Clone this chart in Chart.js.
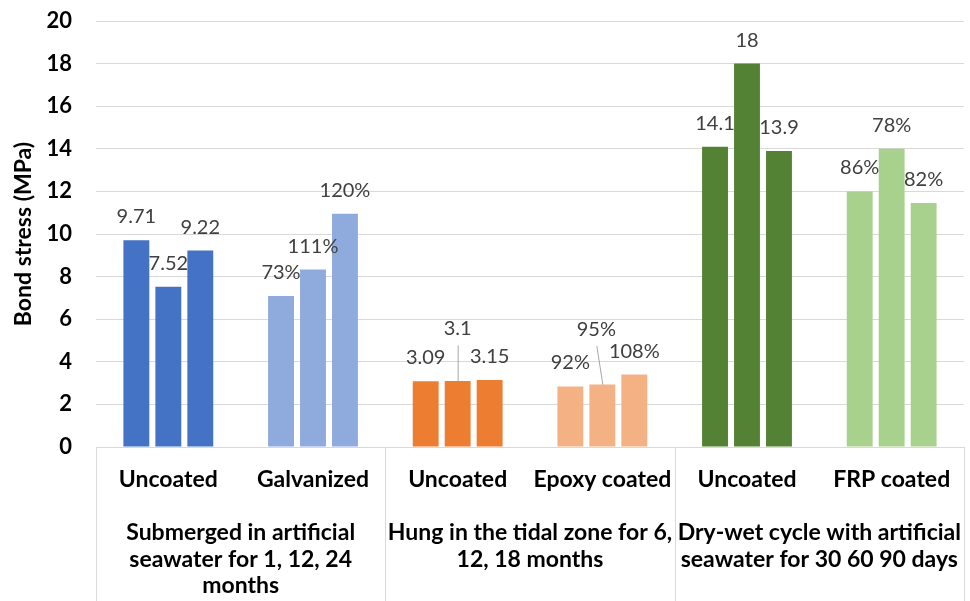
<!DOCTYPE html>
<html>
<head>
<meta charset="utf-8">
<title>Bond stress</title>
<script src="https://cdn.jsdelivr.net/npm/chart.js@4/dist/chart.umd.min.js"></script>
<style>
  html, body { margin: 0; padding: 0; background: #ffffff; }
  canvas { display: block; }
</style>
</head>
<body>
<canvas id="chart" width="970" height="601"></canvas>
<script>
// Bar categories (coating type) and the exposure condition each pair belongs to
const categories = ['Uncoated', 'Galvanized', 'Uncoated', 'Epoxy coated', 'Uncoated', 'FRP coated'];
const groupLines = [
  ['Submerged in artificial', 'seawater for 1, 12, 24', 'months'],
  ['Hung in the tidal zone for 6,', '12, 18 months'],
  ['Dry-wet cycle with artificial', 'seawater for 30 60 90 days']
];

// Bond stress (MPa) for the three exposure durations
const exposure1 = [9.71, 7.09, 3.09, 2.84, 14.1, 12.0];
const exposure2 = [7.52, 8.33, 3.1, 2.93, 18, 14.0];
const exposure3 = [9.22, 10.95, 3.15, 3.4, 13.9, 11.45];

// Text shown above each bar (coated bars show retention relative to uncoated)
const labels1 = ['9.71', '73%', '3.09', '92%', '14.1', '86%'];
const labels2 = ['7.52', '111%', '3.1', '95%', '18', '78%'];
const labels3 = ['9.22', '120%', '3.15', '108%', '13.9', '82%'];

const yTicks = [0, 2, 4, 6, 8, 10, 12, 14, 16, 18, 20];

const barColors = ['#4472C4', '#8FAADC', '#ED7D31', '#F4B183', '#548235', '#A9D18E'];

const FONT = 'Lato, "Open Sans", "DejaVu Sans", sans-serif';
const GRID = '#d9d9d9';

// Labels lifted clear of their neighbours and tied back with a leader line
const leaderLabels = {
  '1-2': { lift: 29, dx: 0 },
  '1-3': { lift: 32, dx: -6 }
};

const valueLabels = {
  id: 'valueLabels',
  afterDatasetsDraw(chart) {
    const ctx = chart.ctx;
    const sets = [labels1, labels2, labels3];
    ctx.save();
    ctx.font = '20px ' + FONT;
    ctx.fillStyle = '#404040';
    ctx.textAlign = 'center';
    ctx.textBaseline = 'middle';
    chart.data.datasets.forEach((ds, d) => {
      const meta = chart.getDatasetMeta(d);
      meta.data.forEach((bar, i) => {
        const text = sets[d][i];
        const lead = leaderLabels[d + '-' + i];
        const cx = bar.x + (lead ? lead.dx : 0);
        const cy = bar.y - 23.5 - (lead ? lead.lift : 0);
        ctx.fillText(text, cx, cy);
        if (lead) {
          ctx.save();
          ctx.strokeStyle = '#a6a6a6';
          ctx.lineWidth = 1;
          ctx.beginPath();
          ctx.moveTo(cx + 0.5, cy + 17);
          ctx.lineTo(bar.x + 0.5, bar.y);
          ctx.stroke();
          ctx.restore();
        }
      });
    });
    ctx.restore();
  }
};

// Two-level category axis: coating names, then exposure condition, with dividers
const groupedAxis = {
  id: 'groupedAxis',
  afterDraw(chart) {
    const ctx = chart.ctx;
    const x = chart.scales.x;
    const area = chart.chartArea;
    const bottom = chart.height;
    const centers = categories.map((_, i) => x.getPixelForValue(i));
    const bounds = [area.left];
    for (let g = 1; g < groupLines.length; g++) {
      bounds.push((centers[2 * g - 1] + centers[2 * g]) / 2);
    }
    bounds.push(area.right);

    ctx.save();
    ctx.strokeStyle = GRID;
    ctx.lineWidth = 1;
    bounds.forEach(b => {
      const px = Math.round(b) + 0.5;
      ctx.beginPath();
      ctx.moveTo(px, area.bottom);
      ctx.lineTo(px, bottom);
      ctx.stroke();
    });

    ctx.fillStyle = '#000000';
    ctx.textAlign = 'center';
    ctx.textBaseline = 'middle';
    ctx.font = 'bold 23px ' + FONT;
    categories.forEach((c, i) => {
      ctx.fillText(c, centers[i], area.bottom + 33, 142);
    });
    groupLines.forEach((lines, g) => {
      const cx = (bounds[g] + bounds[g + 1]) / 2;
      const w = bounds[g + 1] - bounds[g] - 2;
      lines.forEach((ln, k) => {
        ctx.fillText(ln, cx, area.bottom + 86 + k * 26.5, w);
      });
    });
    ctx.restore();
  }
};

const makeSet = (label, data) => ({
  label,
  data,
  backgroundColor: barColors,
  borderWidth: 0,
  categoryPercentage: 0.663,
  barPercentage: 0.81
});

new Chart(document.getElementById('chart'), {
  type: 'bar',
  data: {
    labels: categories,
    datasets: [
      makeSet('Exposure 1', exposure1),
      makeSet('Exposure 2', exposure2),
      makeSet('Exposure 3', exposure3)
    ]
  },
  options: {
    responsive: false,
    animation: false,
    layout: { padding: { top: 21, right: 6, left: 0, bottom: 0 } },
    plugins: {
      legend: { display: false },
      tooltip: { enabled: false }
    },
    scales: {
      x: {
        grid: { display: false },
        border: { display: false },
        ticks: { display: false },
        afterFit(s) { s.height = 154; }
      },
      y: {
        min: 0,
        max: 20,
        afterBuildTicks(s) { s.ticks = yTicks.map(v => ({ value: v })); },
        grid: { color: GRID, lineWidth: 1, drawTicks: false },
        border: { display: false },
        ticks: {
          padding: 24,
          color: '#000000',
          font: { family: FONT, size: 22, weight: 'bold' }
        },
        title: {
          display: true,
          text: 'Bond stress (MPa)',
          color: '#000000',
          font: { family: FONT, size: 23, weight: 'bold' },
          padding: { top: 10, bottom: 0 }
        },
        afterFit(s) { s.width = 96; s.paddingTop = 0; s.paddingBottom = 0; }
      }
    }
  },
  plugins: [valueLabels, groupedAxis]
});
</script>
</body>
</html>
